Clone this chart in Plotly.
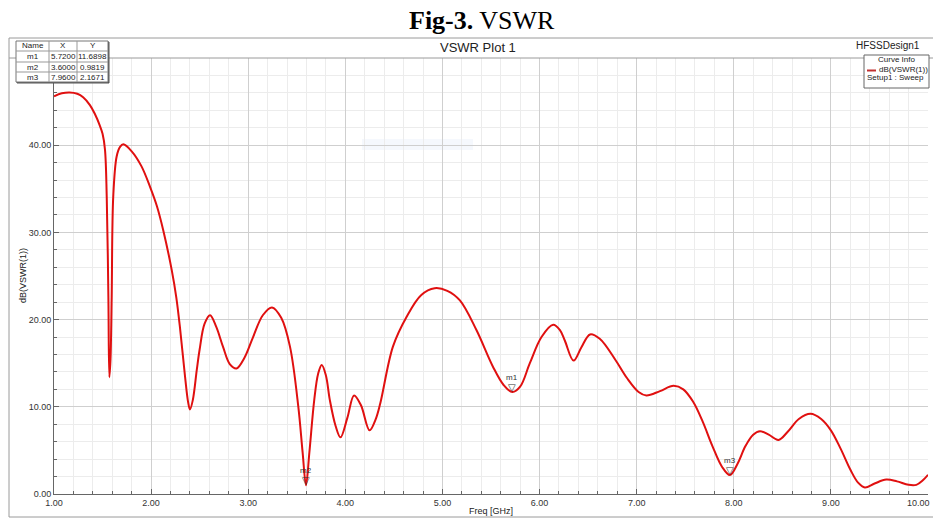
import plotly.graph_objects as go

# ---------------- data ----------------
freq = [1.00, 1.08, 1.16, 1.24, 1.30, 1.37, 1.42, 1.47, 1.50, 1.525, 1.543, 1.56, 1.57,
        1.582, 1.594, 1.61, 1.645, 1.68, 1.714, 1.80, 1.90, 1.99, 2.06, 2.126, 2.212, 2.26, 2.30,
        2.35, 2.38, 2.40, 2.43, 2.47, 2.50, 2.55, 2.607, 2.67, 2.74, 2.81, 2.88, 2.96, 3.05,
        3.15, 3.245, 3.34, 3.43, 3.516, 3.56, 3.595, 3.63, 3.68, 3.72, 3.757, 3.80, 3.84, 3.90,
        3.95, 4.02, 4.09, 4.16, 4.25, 4.31, 4.36, 4.49, 4.63, 4.78, 4.92, 5.05, 5.18, 5.35, 5.52,
        5.63, 5.72, 5.80, 5.90, 6.02, 6.14, 6.21, 6.26, 6.35, 6.43, 6.52, 6.62, 6.78, 6.90,
        7.02, 7.10, 7.24, 7.38, 7.48, 7.58, 7.68, 7.78, 7.88, 7.96, 8.04, 8.12,
        8.20, 8.27, 8.36, 8.46, 8.56, 8.67, 8.79, 8.90, 9.00, 9.10, 9.20, 9.28, 9.35, 9.45,
        9.57, 9.68, 9.80, 9.88, 9.95, 10.00]
vswr_db = [45.6, 45.95, 46.05, 45.9, 45.5, 44.6, 43.6, 42.3, 41.3, 39.5, 34.1, 22.6, 13.4,
           15.5, 22.6, 34.1, 38.7, 39.8, 40.1, 39.3, 37.6, 35.2, 33.0, 30.2, 25.7, 22.5, 18.8,
           13.4, 10.6, 9.7, 10.8, 14.2, 16.6, 19.5, 20.5, 19.2, 16.9, 14.9, 14.4, 15.6, 18.0,
           20.5, 21.4, 20.2, 16.9, 10.0, 4.8, 1.0, 4.8, 10.8, 13.8, 14.8, 13.6, 10.8, 7.8,
           6.5, 8.7, 11.3, 10.2, 7.3, 8.5, 10.4, 16.9, 20.3, 22.8, 23.6, 23.3, 22.2, 18.8, 14.6,
           12.5, 11.69, 12.3, 15.0, 18.0, 19.4, 18.8, 17.6, 15.3, 16.8, 18.3, 17.8, 15.4, 13.3,
           11.7, 11.3, 11.8, 12.4, 12.0, 10.6, 8.3, 5.5, 3.1, 2.17, 3.5, 5.5,
           6.8, 7.2, 6.8, 6.2, 7.2, 8.6, 9.2, 8.6, 7.3, 5.2, 2.8, 1.3, 0.75, 1.2,
           1.65, 1.45, 1.05, 1.05, 1.6, 2.2]

marker_names = ["m1", "m2", "m3"]
marker_x = [5.7200, 3.6000, 7.9600]
marker_y = [11.6898, 0.9819, 2.1671]

x_ticks = [1, 2, 3, 4, 5, 6, 7, 8, 9, 10]
y_ticks = [0, 10, 20, 30, 40]

# ---------------- layout helpers (pixel -> paper) ----------------
W, H = 933, 520
L, R, T, B = 54, 5, 58, 26
PW, PH = W - L - R, H - T - B


def X(p):
    return (p - L) / PW


def Y(p):
    return (H - B - p) / PH


SANS = "Liberation Sans, Arial, sans-serif"
SERIF = "Liberation Serif, Times New Roman, serif"

fig = go.Figure()
fig.add_trace(go.Scatter(x=freq, y=vswr_db, mode="lines",
                         line=dict(color="#e01010", width=2, shape="spline", smoothing=1.0),
                         showlegend=False, hoverinfo="skip"))

shapes = []
annotations = []

# outer frame and header divider
shapes.append(dict(type="rect", xref="paper", yref="paper", x0=X(9), x1=X(940), y0=Y(517), y1=Y(38),
                   line=dict(color="#9a9a9a", width=1), fillcolor="rgba(0,0,0,0)", layer="below"))
shapes.append(dict(type="line", xref="paper", yref="paper", x0=X(9), x1=X(940), y0=Y(58), y1=Y(58),
                   line=dict(color="#9a9a9a", width=1)))
# faint watermark
shapes.append(dict(type="rect", xref="paper", yref="paper", x0=X(362), x1=X(473), y0=Y(150), y1=Y(139),
                   line=dict(width=0), fillcolor="rgba(200,218,245,0.18)", layer="below"))

# marker table
tx = [16, 49, 77, 108]
ty = [41, 51, 62, 72, 82]
shapes.append(dict(type="rect", xref="paper", yref="paper", x0=X(tx[0] + 1), x1=X(tx[-1] + 1),
                   y0=Y(ty[-1] + 1), y1=Y(ty[0] + 1), line=dict(color="#555", width=1),
                   fillcolor="#555"))
shapes.append(dict(type="rect", xref="paper", yref="paper", x0=X(tx[0]), x1=X(tx[-1]),
                   y0=Y(ty[-1]), y1=Y(ty[0]), line=dict(color="#777", width=1), fillcolor="white"))
for xv in tx[1:-1]:
    shapes.append(dict(type="line", xref="paper", yref="paper", x0=X(xv), x1=X(xv),
                       y0=Y(ty[-1]), y1=Y(ty[0]), line=dict(color="#999", width=1)))
for yv in ty[1:-1]:
    shapes.append(dict(type="line", xref="paper", yref="paper", x0=X(tx[0]), x1=X(tx[-1]),
                       y0=Y(yv), y1=Y(yv), line=dict(color="#999", width=1)))
rows = [["Name", "X", "Y"]] + [[n, f"{x:.4f}", f"{y:.4f}"] for n, x, y in zip(marker_names, marker_x, marker_y)]
for ri, row in enumerate(rows):
    for ci, txt in enumerate(row):
        annotations.append(dict(xref="paper", yref="paper", x=X((tx[ci] + tx[ci + 1]) / 2),
                                y=Y((ty[ri] + ty[ri + 1]) / 2), text=txt, showarrow=False,
                                font=dict(family=SANS, size=8, color="#222"),
                                xanchor="center", yanchor="middle"))

# legend box ("Curve Info")
shapes.append(dict(type="rect", xref="paper", yref="paper", x0=X(864), x1=X(929), y0=Y(88), y1=Y(55),
                   line=dict(color="#666", width=1), fillcolor="white"))
shapes.append(dict(type="line", xref="paper", yref="paper", x0=X(867), x1=X(876), y0=Y(70.5), y1=Y(70.5),
                   line=dict(color="#c03030", width=2)))
annotations += [
    dict(xref="paper", yref="paper", x=X(896), y=Y(59.5), text="Curve Info", showarrow=False,
         font=dict(family=SANS, size=8, color="#222"), xanchor="center", yanchor="middle"),
    dict(xref="paper", yref="paper", x=X(877), y=Y(69), text="dB(VSWR(1))", showarrow=False,
         font=dict(family=SANS, size=8, color="#222"), xanchor="left", yanchor="middle"),
    dict(xref="paper", yref="paper", x=X(865), y=Y(77.5), text="Setup1 : Sweep", showarrow=False,
         font=dict(family=SANS, size=8, color="#222"), xanchor="left", yanchor="middle"),
    dict(xref="paper", yref="paper", x=X(922), y=Y(45), text="HFSSDesign1", showarrow=False,
         font=dict(family=SANS, size=10, color="#222"), xanchor="right", yanchor="middle"),
    dict(xref="paper", yref="paper", x=X(482), y=Y(21), text="<b>Fig-3.</b> VSWR", showarrow=False,
         font=dict(family=SERIF, size=26, color="black"), xanchor="center", yanchor="middle"),
    dict(xref="paper", yref="paper", x=X(478), y=Y(47), text="VSWR Plot 1", showarrow=False,
         font=dict(family=SANS, size=13, color="#222"), xanchor="center", yanchor="middle"),
    dict(xref="paper", yref="paper", x=X(491), y=Y(511), text="Freq [GHz]", showarrow=False,
         font=dict(family=SANS, size=9, color="#222"), xanchor="center", yanchor="middle"),
    dict(xref="paper", yref="paper", x=X(23), y=Y(276), text="dB(VSWR(1))", showarrow=False,
         textangle=-90, font=dict(family=SANS, size=9, color="#222"), xanchor="center", yanchor="middle"),
    # last x tick label, kept just inside the right edge
    dict(xref="paper", yref="y", x=X(932), y=0, text=f"{x_ticks[-1]:.2f}", showarrow=False,
         font=dict(family=SANS, size=9, color="#333"), xanchor="right", yanchor="top", yshift=-2),
]

# markers m1..m3
for n, xv, yv in zip(marker_names, marker_x, marker_y):
    annotations.append(dict(x=xv, y=yv, xref="x", yref="y", text="▽", showarrow=False,
                            font=dict(family="DejaVu Sans", size=10, color="#333"),
                            xanchor="center", yanchor="bottom", yshift=-3))
    annotations.append(dict(x=xv, y=yv, xref="x", yref="y", text=n, showarrow=False,
                            font=dict(family=SANS, size=8, color="#333"),
                            xanchor="center", yanchor="bottom", yshift=8))

fig.update_layout(
    width=W, height=H,
    margin=dict(l=L, r=R, t=T, b=B, pad=0, autoexpand=False),
    paper_bgcolor="white", plot_bgcolor="white",
    showlegend=False,
    shapes=shapes, annotations=annotations,
    xaxis=dict(range=[1, 10], tickvals=x_ticks[:-1], tickformat=".2f", automargin=False,
               tickfont=dict(family=SANS, size=9, color="#333"),
               showgrid=True, gridcolor="#cfcfcf", gridwidth=1,
               ticks="inside", ticklen=5, tickcolor="#666",
               showline=True, linecolor="#666", linewidth=1, zeroline=False,
               minor=dict(dtick=0.2, showgrid=True, gridcolor="#ececec", ticks="inside", ticklen=3,
                          tickcolor="#666")),
    yaxis=dict(range=[0, 50], tickvals=y_ticks, tickformat=".2f", automargin=False,
               tickfont=dict(family=SANS, size=9, color="#333"),
               showgrid=True, gridcolor="#cfcfcf", gridwidth=1,
               ticks="inside", ticklen=5, tickcolor="#666",
               showline=True, linecolor="#666", linewidth=1, zeroline=False,
               minor=dict(dtick=2, showgrid=True, gridcolor="#ececec", ticks="inside", ticklen=3,
                          tickcolor="#666")),
)

fig.write_html("out.html")
